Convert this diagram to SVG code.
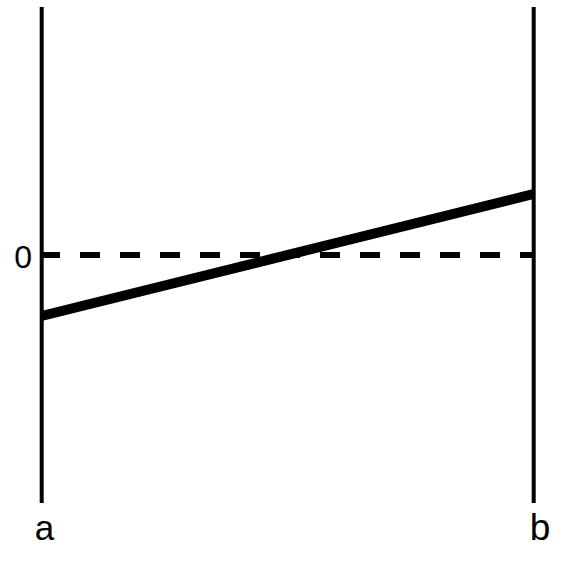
<svg xmlns="http://www.w3.org/2000/svg" width="583" height="573" viewBox="0 0 583 573">
<style>
.axis{stroke:#000;stroke-width:4;fill:none}
.zero{stroke:#000;stroke-width:6;stroke-dasharray:20 20;fill:none}
.fn{stroke:#000;stroke-width:10;fill:none}
.lbl{font-family:"Liberation Sans",Arial,sans-serif;fill:#000}
</style>
<rect width="583" height="573" fill="#fff"/>
<g id="connectors">
<line class="zero" x1="40" y1="255" x2="533.5" y2="255"/>
<line class="fn" x1="41.5" y1="316" x2="533.5" y2="194"/>
</g>
<g id="axis-a">
<line class="axis" x1="41.7" y1="7" x2="41.7" y2="503"/>
<text class="lbl" x="44.5" y="540" font-size="35" text-anchor="middle">a</text>
</g>
<g id="axis-b">
<line class="axis" x1="533.7" y1="7" x2="533.7" y2="503"/>
<text class="lbl" x="540" y="539.5" font-size="37" text-anchor="middle">b</text>
</g>
<g id="label-0">
<text class="lbl" x="32" y="267.5" font-size="32" text-anchor="end">0</text>
</g>
</svg>
